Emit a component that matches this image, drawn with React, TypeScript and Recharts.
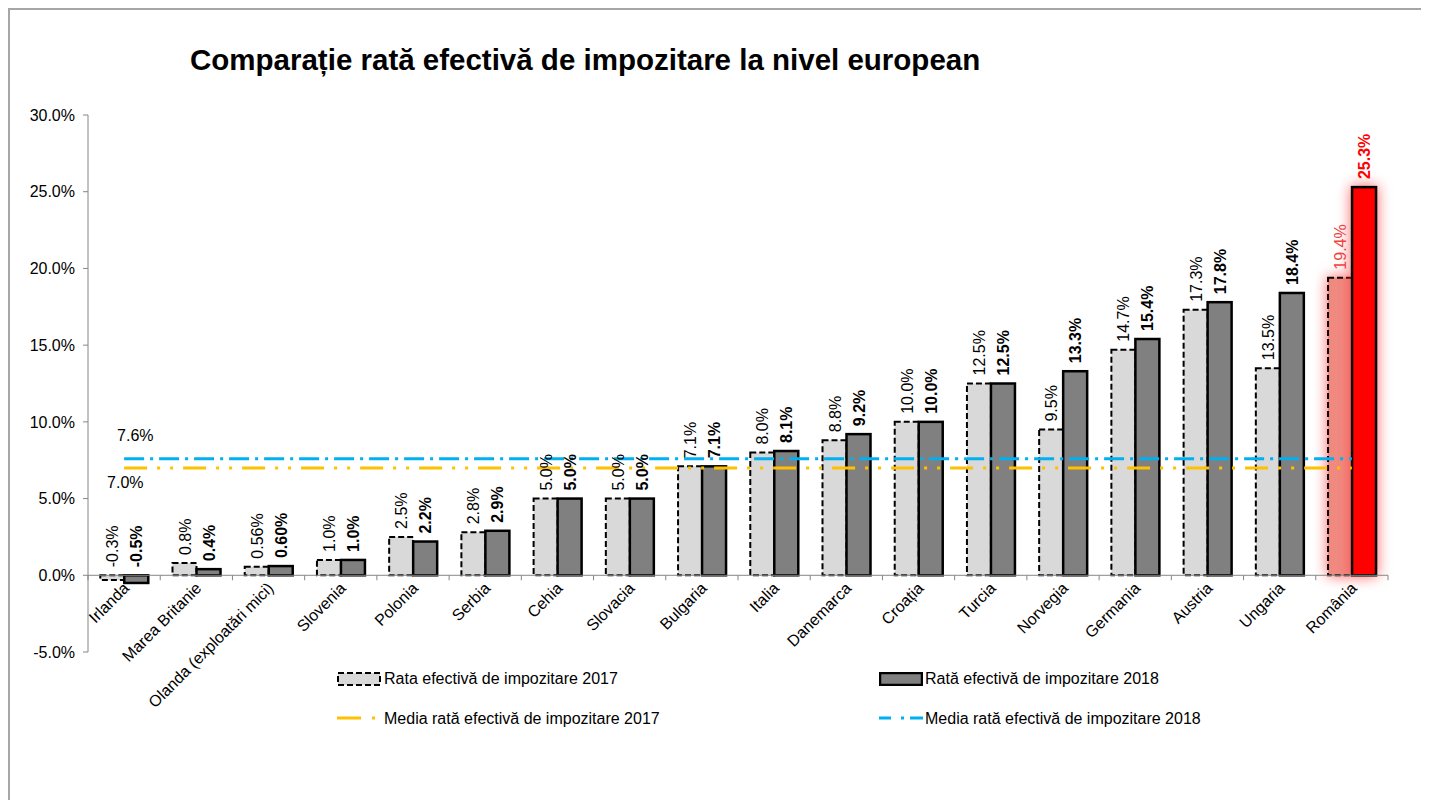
import React from 'react';
import { ComposedChart, Bar, Line, XAxis, YAxis, ReferenceLine, LabelList } from 'recharts';

// categories and values
const countries = [
  'Irlanda', 'Marea Britanie', 'Olanda (exploatări mici)', 'Slovenia', 'Polonia', 'Serbia',
  'Cehia', 'Slovacia', 'Bulgaria', 'Italia', 'Danemarca', 'Croația', 'Turcia', 'Norvegia',
  'Germania', 'Austria', 'Ungaria', 'România',
];
const rate2017 = [-0.3, 0.8, 0.56, 1.0, 2.5, 2.8, 5.0, 5.0, 7.1, 8.0, 8.8, 10.0, 12.5, 9.5, 14.7, 17.3, 13.5, 19.4];
const rate2018 = [-0.5, 0.4, 0.6, 1.0, 2.2, 2.9, 5.0, 5.0, 7.1, 8.1, 9.2, 10.0, 12.5, 13.3, 15.4, 17.8, 18.4, 25.3];
const labels2017 = ['-0.3%', '0.8%', '0.56%', '1.0%', '2.5%', '2.8%', '5.0%', '5.0%', '7.1%', '8.0%', '8.8%', '10.0%', '12.5%', '9.5%', '14.7%', '17.3%', '13.5%', '19.4%'];
const labels2018 = ['-0.5%', '0.4%', '0.60%', '1.0%', '2.2%', '2.9%', '5.0%', '5.0%', '7.1%', '8.1%', '9.2%', '10.0%', '12.5%', '13.3%', '15.4%', '17.8%', '18.4%', '25.3%'];
const mean2017 = 7.0;
const mean2018 = 7.6;
const yTicks = [-5, 0, 5, 10, 15, 20, 25, 30];
const highlight = 'România';

const data = countries.map((name, i) => ({
  name,
  r2017: rate2017[i],
  r2018: rate2018[i],
  m2017: mean2017,
  m2018: mean2018,
}));

// layout
const CHART_W = 1415;
const CHART_H = 770;
const TOP = 105;
const PLOT_H = 537;
const PLOT_W = 1300;
const Y_MIN = -5;
const Y_MAX = 30;
const ZERO_Y = TOP + ((Y_MAX - 0) / (Y_MAX - Y_MIN)) * PLOT_H;
const BAND = PLOT_W / countries.length;
const FONT = '"Liberation Sans", Arial, sans-serif';

const CategoryTick = (props: any) => {
  const { x, payload, index } = props;
  const last = index === countries.length - 1;
  return (
    <g>
      <line x1={x - BAND / 2} x2={x - BAND / 2} y1={ZERO_Y} y2={ZERO_Y + 5} stroke="#868686" />
      {last && <line x1={x + BAND / 2} x2={x + BAND / 2} y1={ZERO_Y} y2={ZERO_Y + 5} stroke="#868686" />}
      <text
        transform={`translate(${x + 6},${ZERO_Y + 14}) rotate(-45)`}
        textAnchor="end"
        fontSize={16}
        fill="#000"
        fontFamily={FONT}
      >
        {payload.value}
      </text>
    </g>
  );
};

const makeShape = (fill: string, hlFill: string, dashed: boolean) => (props: any) => {
  const { x, y, width, height, payload } = props;
  const hl = payload && payload.name === highlight;
  const top = height < 0 ? y + height : y;
  const h = Math.abs(height);
  return (
    <rect
      x={x}
      y={top}
      width={width}
      height={h}
      fill={hl ? hlFill : fill}
      stroke="#000"
      strokeWidth={dashed ? 2 : 2.5}
      strokeDasharray={dashed ? '6 3' : undefined}
      style={hl ? { filter: 'drop-shadow(0 0 7px rgba(255,60,60,0.8))' } : undefined}
    />
  );
};

const makeValueLabel = (texts: string[], bold: boolean, hlColor: string) => (props: any) => {
  const { x, y, width, height, index } = props;
  const top = Math.min(y, y + height);
  const cx = x + width / 2;
  const hl = countries[index] === highlight;
  return (
    <text
      transform={`translate(${cx + 6},${top - 8}) rotate(-90)`}
      textAnchor="start"
      fontSize={16}
      fontWeight={bold ? 'bold' : 'normal'}
      fill={hl ? hlColor : '#000'}
      fontFamily={FONT}
    >
      {texts[index]}
    </text>
  );
};

const makeMeanLabel = (text: string, dx: number, dy: number) => (props: any) => {
  const { x, y, index } = props;
  if (index !== 0) return null;
  return (
    <text x={x + dx} y={y + dy} fontSize={16} fill="#000" fontFamily={FONT} dominantBaseline="middle">
      {text}
    </text>
  );
};

const legendText: React.CSSProperties = {
  position: 'absolute',
  fontSize: 16,
  color: '#000',
  whiteSpace: 'nowrap',
  lineHeight: '18px',
};

export default function App() {
  return (
    <div
      style={{
        width: 1425,
        height: 800,
        border: '2px solid #a6a6a6',
        boxSizing: 'border-box',
        fontFamily: FONT,
        background: '#fff',
      }}
    >
      <div style={{ position: 'relative', width: CHART_W, height: CHART_H }}>
        <div
          style={{
            position: 'absolute',
            left: 180,
            top: 33,
            fontSize: 29.5,
            fontWeight: 'bold',
            color: '#000',
            whiteSpace: 'nowrap',
          }}
        >
          Comparație rată efectivă de impozitare la nivel european
        </div>
        <ComposedChart
          width={CHART_W}
          height={CHART_H}
          data={data}
          margin={{ top: TOP, right: CHART_W - 78 - PLOT_W, left: 18, bottom: CHART_H - TOP - PLOT_H - 30 }}
          barCategoryGap="17%"
          barGap={0}
        >
          <XAxis
            dataKey="name"
            height={30}
            axisLine={false}
            tickLine={false}
            interval={0}
            tick={<CategoryTick />}
          />
          <YAxis
            width={60}
            domain={[Y_MIN, Y_MAX]}
            ticks={yTicks}
            allowDataOverflow
            tickFormatter={(v: number) => v.toFixed(1) + '%'}
            axisLine={{ stroke: '#868686' }}
            tickLine={{ stroke: '#868686' }}
            tickSize={5}
            tickMargin={8}
            tick={{ fill: '#000', fontSize: 16, fontFamily: FONT }}
          />
          <ReferenceLine y={0} stroke="#868686" strokeWidth={1} />
          <Bar dataKey="r2017" isAnimationActive={false} shape={makeShape('#d9d9d9', '#f08a80', true)}>
            <LabelList dataKey="r2017" content={makeValueLabel(labels2017, false, '#f04040')} />
          </Bar>
          <Bar dataKey="r2018" isAnimationActive={false} shape={makeShape('#808080', '#ff0000', false)}>
            <LabelList dataKey="r2018" content={makeValueLabel(labels2018, true, '#ff0000')} />
          </Bar>
          <Line
            dataKey="m2017"
            stroke="#ffc000"
            strokeWidth={3}
            strokeDasharray="23 10 3 10 3 10"
            dot={false}
            activeDot={false}
            isAnimationActive={false}
          >
            <LabelList dataKey="m2017" content={makeMeanLabel('7.0%', -17, 16)} />
          </Line>
          <Line
            dataKey="m2018"
            stroke="#00b0f0"
            strokeWidth={3}
            strokeDasharray="20 6 3 6"
            dot={false}
            activeDot={false}
            isAnimationActive={false}
          >
            <LabelList dataKey="m2018" content={makeMeanLabel('7.6%', -7, -22)} />
          </Line>
        </ComposedChart>

        {/* legend */}
        <svg style={{ position: 'absolute', left: 327, top: 662 }} width={44} height={14}>
          <rect x={1} y={1} width={42} height={12} fill="#d9d9d9" stroke="#000" strokeWidth={2} strokeDasharray="6 3" />
        </svg>
        <div style={{ ...legendText, left: 374, top: 660 }}>Rata efectivă de impozitare 2017</div>
        <svg style={{ position: 'absolute', left: 869, top: 662 }} width={44} height={14}>
          <rect x={1} y={1} width={42} height={12} fill="#808080" stroke="#000" strokeWidth={2.5} />
        </svg>
        <div style={{ ...legendText, left: 915, top: 660 }}>Rată efectivă de impozitare 2018</div>
        <svg style={{ position: 'absolute', left: 327, top: 702 }} width={48} height={12}>
          <line x1={0} x2={24} y1={6} y2={6} stroke="#ffc000" strokeWidth={3} />
          <line x1={35} x2={38} y1={6} y2={6} stroke="#ffc000" strokeWidth={3} />
        </svg>
        <div style={{ ...legendText, left: 374, top: 700 }}>Media rată efectivă de impozitare 2017</div>
        <svg style={{ position: 'absolute', left: 869, top: 702 }} width={48} height={12}>
          <line x1={0} x2={12} y1={6} y2={6} stroke="#00b0f0" strokeWidth={3} />
          <line x1={22} x2={25} y1={6} y2={6} stroke="#00b0f0" strokeWidth={3} />
          <line x1={31} x2={44} y1={6} y2={6} stroke="#00b0f0" strokeWidth={3} />
        </svg>
        <div style={{ ...legendText, left: 915, top: 700 }}>Media rată efectivă de impozitare 2018</div>
      </div>
    </div>
  );
}
